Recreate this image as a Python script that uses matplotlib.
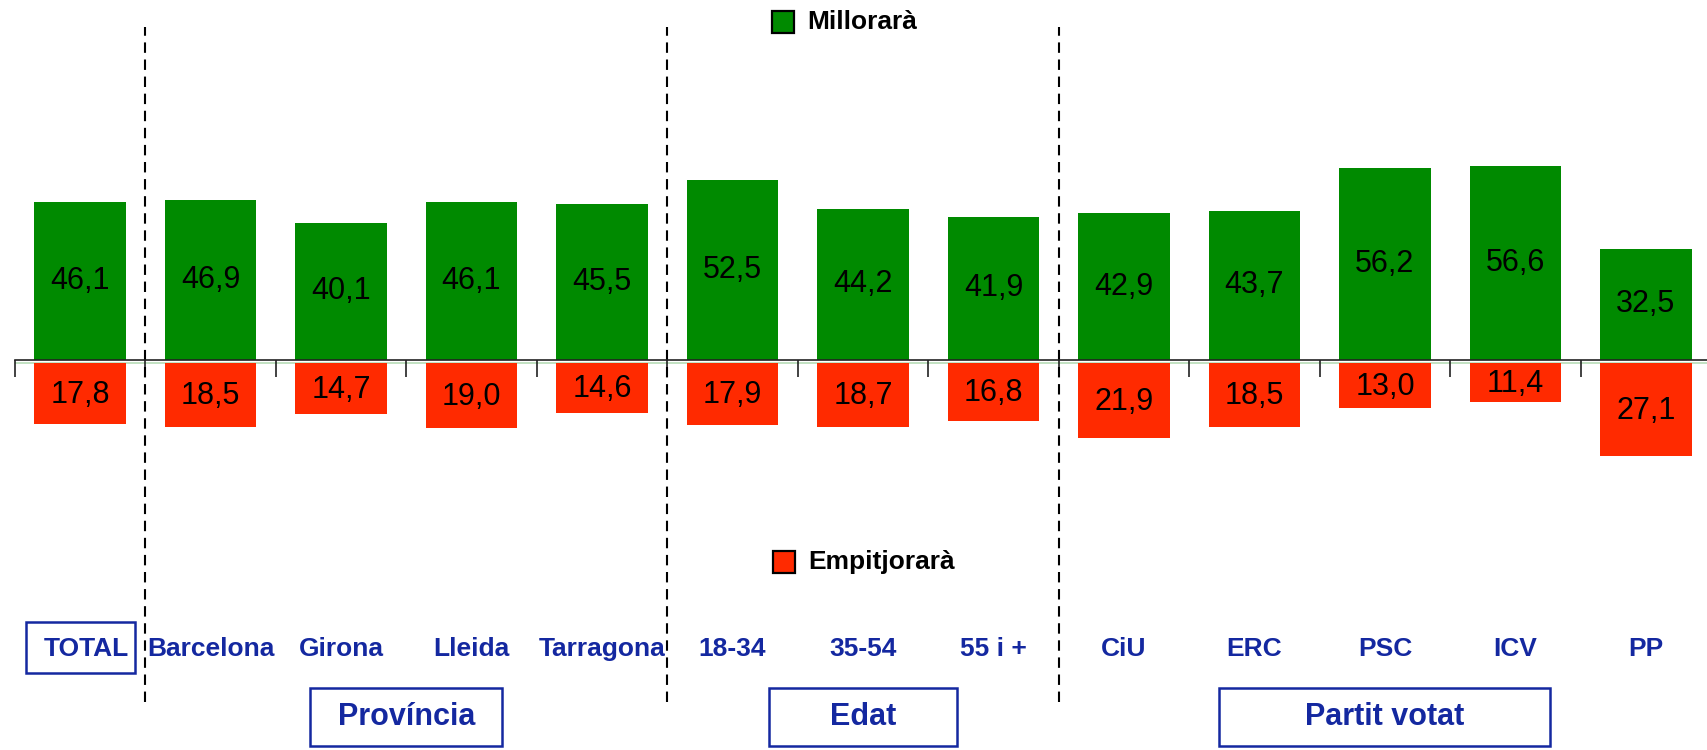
import matplotlib
matplotlib.use("Agg")
import matplotlib.pyplot as plt
from matplotlib.patches import Rectangle

plt.rcParams['font.family'] = ['Liberation Sans', 'DejaVu Sans']

categories = ["TOTAL", "Barcelona", "Girona", "Lleida", "Tarragona",
              "18-34", "35-54", "55 i +", "CiU", "ERC", "PSC", "ICV", "PP"]
millorara = [46.1, 46.9, 40.1, 46.1, 45.5, 52.5, 44.2, 41.9, 42.9, 43.7, 56.2, 56.6, 32.5]
empitjorara = [17.8, 18.5, 14.7, 19.0, 14.6, 17.9, 18.7, 16.8, 21.9, 18.5, 13.0, 11.4, 27.1]
groups = ["Província", "Edat", "Partit votat"]
group_centers = [2.5, 6.0, 10.0]
group_widths = [1.475, 1.444, 2.536]
separators = [0.5, 4.5, 7.5]
series_names = ["Millorarà", "Empitjorarà"]

GREEN = "#008A00"
RED = "#FF2A00"
BLUE = "#1428A0"

W, H = 1707, 750
fig = plt.figure(figsize=(W / 100, H / 100), dpi=100)
left_px = 14.7
ax = fig.add_axes([left_px / W, 0, 1 - left_px / W, 1])
step = 130.5
ax.set_xlim(-0.5, -0.5 + (W - left_px) / step)
ppu = 3.42
base = 360
ax.set_ylim(-(H - base) / ppu, base / ppu)

x = list(range(len(categories)))
ax.bar(x, millorara, width=0.70, color=GREEN, zorder=2)
ax.bar(x, [-v for v in empitjorara], bottom=-1.0, width=0.70, color=RED, zorder=2)

for i, (g, r) in enumerate(zip(millorara, empitjorara)):
    ax.text(i, g / 2, f"{g:.1f}".replace(".", ","), ha="center", va="center",
            fontsize=22, color="black", zorder=3)
    ax.text(i, -1.0 - r / 2 - 0.3, f"{r:.1f}".replace(".", ","), ha="center", va="center",
            fontsize=22, color="black", zorder=3)

# axis baseline with ticks at category boundaries
for s in ["top", "right", "left"]:
    ax.spines[s].set_visible(False)
ax.spines["bottom"].set_position(("data", 0))
ax.spines["bottom"].set_color("#222222")
ax.spines["bottom"].set_linewidth(1.2)
ax.spines["bottom"].set_zorder(4)
ax.set_xticks([k - 0.5 for k in range(len(categories))])
ax.set_xticklabels([])
ax.tick_params(axis="x", direction="out", length=12, width=1.2, color="#222222")
ax.set_yticks([])
ax.axhline(-1.0, color="#B8DDB8", lw=1.2, zorder=1)

# dashed separators
for sx in separators:
    ax.plot([sx, sx], [-100, 97.4], color="black", lw=1.5,
            linestyle=(0, (5, 3.2)), zorder=3, clip_on=False)

# category labels
for i, c in enumerate(categories):
    cx = i + (0.05 if i == 0 else 0)
    ax.text(cx, -84.5, c, ha="center", va="center", fontsize=19,
            fontweight="bold", color=BLUE)
# TOTAL box
ax.add_patch(Rectangle((-0.41, -91.6), 0.835, 15.0, fill=False,
                       edgecolor=BLUE, lw=1.8, clip_on=False))

# group labels with boxes
for name, cx, wd in zip(groups, group_centers, group_widths):
    ax.add_patch(Rectangle((cx - wd / 2, -112.9), wd, 17.0, fill=False,
                           edgecolor=BLUE, lw=1.8, clip_on=False))
    ax.text(cx, -104.5, name, ha="center", va="center", fontsize=22,
            fontweight="bold", color=BLUE)

# legend entries
def legend_entry(px, py, color, label):
    fig.patches.append(Rectangle((px / W, 1 - (py + 11) / H), 22 / W, 22 / H,
                                 transform=fig.transFigure, facecolor=color,
                                 edgecolor="black", lw=1.6))
    fig.text((px + 35) / W, 1 - py / H, label, ha="left", va="center",
             fontsize=19, fontweight="bold", color="black")

legend_entry(772, 22, GREEN, series_names[0])
legend_entry(773, 562, RED, series_names[1])

fig.savefig("out.png", dpi=100, facecolor="white")
